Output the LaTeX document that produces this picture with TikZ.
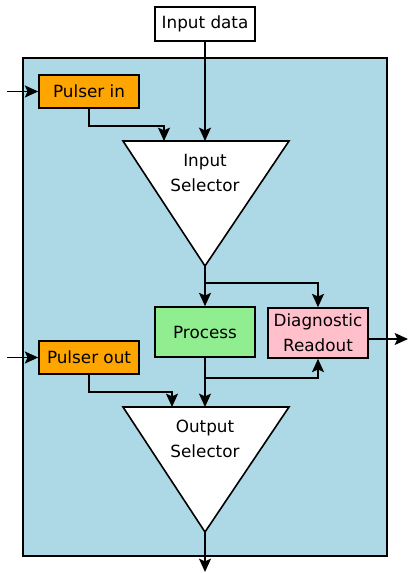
\documentclass[tikz,border=0pt]{standalone}
\usepackage{fontspec}
\setmainfont{DejaVu Sans}
\usetikzlibrary{arrows.meta}
\definecolor{boardblue}{HTML}{ADD8E6}
\definecolor{pulserorange}{HTML}{FFA500}
\definecolor{procgreen}{HTML}{90EE90}
\definecolor{diagpink}{HTML}{FFC0CB}

\begin{document}
\begin{tikzpicture}[x=0.75pt, y=-0.75pt, line width=1.2pt,
	font=\fontsize{12.6}{18.5}\selectfont,
	>={Stealth[length=10pt, width=9pt, inset=2pt]},
	block/.style={draw=black, line width=1.2pt, align=center, inner sep=0pt, minimum width=75pt},
	pulser/.style={block, fill=pulserorange, minimum height=25pt},
	tag/.style={align=center, inner sep=0pt}]
	
	\useasboundingbox (0,0) rectangle (409,573);
	\draw[fill=boardblue] (23,58) rectangle (387,556);
	
	\node[block, fill=white, minimum height=25.5pt] (data) at (205,24) {Input data};
	\node[pulser] (pin) at (89,91.5) {Pulser in};
	\node[pulser] (pout) at (89,357.5) {Pulser out};
	\node[block, fill=procgreen, minimum height=37.5pt] (proc) at (205,332) {Process};
	\node[block, fill=diagpink, minimum height=37.5pt] (diag) at (318,333) {Diagnostic\\Readout};
	
	\draw[fill=white] (123,141) -- (289,141) -- (205,266) -- cycle;
	\node[tag] (insel) at (205,173) {Input\\Selector};
	\draw[fill=white] (123,407) -- (289,407) -- (205,532) -- cycle;
	\node[tag] (outsel) at (205,439) {Output\\Selector};
	
	\coordinate (intop) at (205,141);
	\coordinate (inleft) at (164,141);
	\coordinate (inapex) at (205,266);
	\coordinate (split1) at (205,283);
	\coordinate (split2) at (205,378);
	\coordinate (outtop) at (205,407);
	\coordinate (outleft) at (172,407);
	\coordinate (outapex) at (205,532);
	\coordinate (outend) at (205,572);
	\coordinate (pinsrc) at (7,91.5);
	\coordinate (poutsrc) at (7,357.5);
	\coordinate (diagdst) at (408,339);
	
	\draw[->] (data.south) -- (intop);
	\draw[->] (pinsrc) -- (pin);
	\draw[->] (pin.south) -- ++(0,17) -| (inleft);
	\draw[->] (inapex) -- (proc.north);
	\draw[->] (split1) -| (diag.north);
	\draw[->] (poutsrc) -- (pout);
	\draw[->] (pout.south) -- ++(0,17) -| (outleft);
	\draw[->] (proc.south) -- (outtop);
	\draw[->] (split2) -| (diag.south);
	\draw[->] (diag.east |- diagdst) -- (diagdst);
	\draw[->] (outapex) -- (outend);
\end{tikzpicture}
\end{document}
